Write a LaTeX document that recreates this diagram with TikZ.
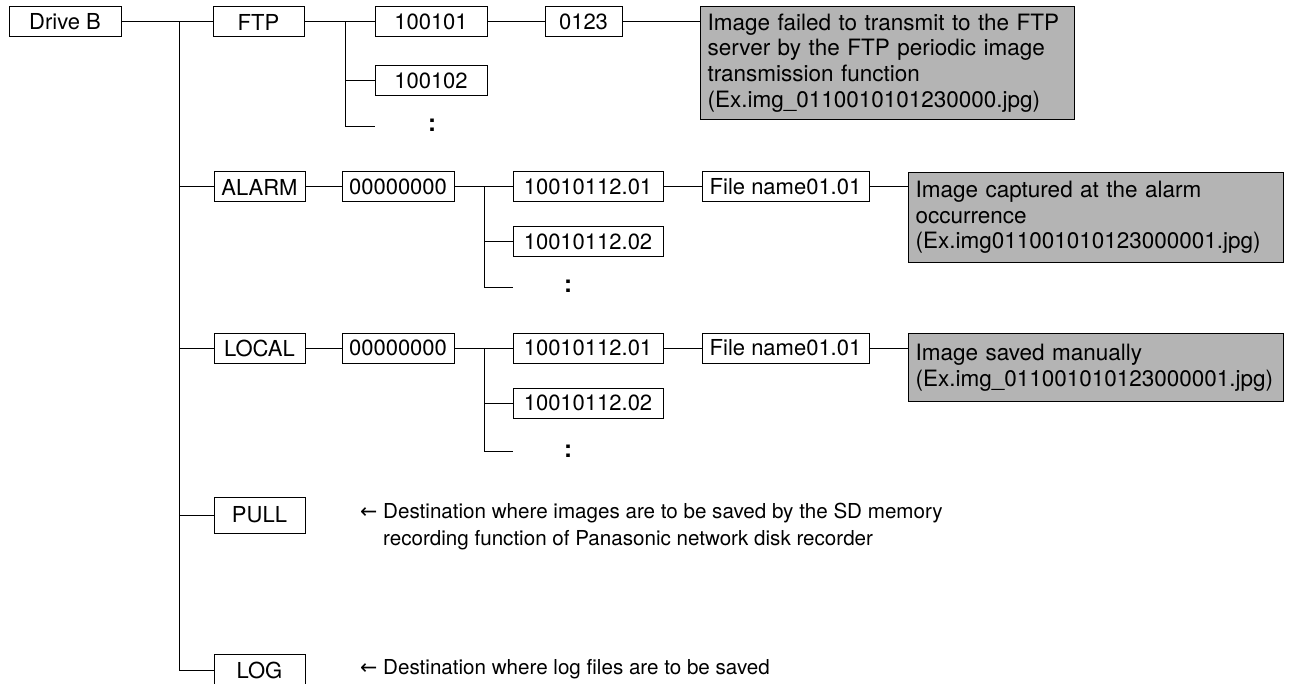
\documentclass[tikz,border=0pt]{standalone}
\usepackage{fontspec}
\setmainfont{TeX Gyre Heros}
\newfontfamily\arrowfont{DejaVu Sans}
\definecolor{greyfill}{RGB}{180,180,180}
\begin{document}
\begin{tikzpicture}[x=1pt,y=-1pt,
  lbl/.style={draw=black,line width=1pt,minimum height=30pt,inner sep=0pt,font=\fontsize{22}{26}\selectfont},
  note/.style={draw=black,line width=1pt,fill=greyfill,anchor=north west,inner xsep=7pt,inner ysep=0pt,align=left,font=\fontsize{22.5}{25.6}\selectfont},
  desc/.style={anchor=base west,inner sep=0pt,align=left,font=\fontsize{20.6}{27}\selectfont},
  dots/.style={inner sep=0pt,font=\fontsize{24}{26}\selectfont\bfseries},
  wire/.style={line width=1pt,draw=black}]
\useasboundingbox (0,0) rectangle (1289,684);

% FTP row
\node[lbl,minimum width=112pt] (drive) at (65,22) {Drive B};
\node[lbl,minimum width=91pt] (ftp) at (258.5,22) {FTP};
\node[lbl,minimum width=112pt] (f1) at (431,22) {100101};
\node[lbl,minimum width=112pt] (f2) at (431,81) {100102};
\node[lbl,minimum width=77pt] (f3) at (583.5,22) {0123};
\node[note,minimum width=374pt,minimum height=113pt,text width=360pt] (g1) at (700,6) {Image failed to transmit to the FTP\\server by the FTP periodic image\\transmission function\\(Ex.img\_0110010101230000.jpg)};
\node[dots] (fdots) at (432,125) {:};

% ALARM row
\node[lbl,minimum width=91pt] (alarm) at (259.5,187) {ALARM};
\node[lbl,minimum width=112pt] (a0) at (398,187) {00000000};
\node[lbl,minimum width=150pt] (a1) at (588,187) {10010112.01};
\node[lbl,minimum width=150pt] (a2) at (588,242) {10010112.02};
\node[lbl,minimum width=167pt] (a3) at (785.5,187) {File name01.01};
\node[note,minimum width=375pt,minimum height=90pt,text width=361pt] (g2) at (908,172) {Image captured at the alarm\\occurrence\\(Ex.img011001010123000001.jpg)};
\node[dots] (adots) at (568,286) {:};

% LOCAL row
\node[lbl,minimum width=91pt] (local) at (259.5,348) {LOCAL};
\node[lbl,minimum width=112pt] (l0) at (398,348) {00000000};
\node[lbl,minimum width=150pt] (l1) at (588,348) {10010112.01};
\node[lbl,minimum width=150pt] (l2) at (588,403) {10010112.02};
\node[lbl,minimum width=167pt] (l3) at (785.5,348) {File name01.01};
\node[note,minimum width=375pt,minimum height=68pt,text width=361pt] (g3) at (908,333) {Image saved manually\\(Ex.img\_011001010123000001.jpg)};
\node[dots] (ldots) at (568,451) {:};

% PULL and LOG
\node[lbl,minimum width=91pt,minimum height=36pt] (pull) at (259.5,515) {PULL};
\node[lbl,minimum width=91pt,minimum height=32pt] (log) at (259.5,670) {LOG};
\node[desc,anchor=north west] (pdesc) at (360,503) {{\arrowfont ←} Destination where images are to be saved by the SD memory\\\phantom{{\arrowfont ←} }recording function of Panasonic network disk recorder};
\node[desc] (ldesc) at (360,674) {{\arrowfont ←} Destination where log files are to be saved};

% main trunk
\coordinate (t0) at (179,22);
\draw[wire] (drive.east) -- (ftp.west);
\draw[wire] (t0) |- (log.west);
\draw[wire] (t0 |- alarm) -- (alarm.west);
\draw[wire] (t0 |- local) -- (local.west);
\draw[wire] (t0 |- pull) -- (pull.west);

% FTP branch
\coordinate (s1) at (345,22);
\coordinate (fe) at (375,127);
\draw[wire] (ftp.east) -- (f1.west);
\draw[wire] (s1) |- (fe);
\draw[wire] (s1 |- f2) -- (f2.west);
\draw[wire] (f1.east) -- (f3.west);
\draw[wire] (f3.east) -- (f3.east -| g1.west);

% ALARM branch
\coordinate (s2) at (484,187);
\coordinate (ae) at (513,288);
\draw[wire] (alarm.east) -- (a0.west);
\draw[wire] (a0.east) -- (a1.west);
\draw[wire] (s2) |- (ae);
\draw[wire] (s2 |- a2) -- (a2.west);
\draw[wire] (a1.east) -- (a3.west);
\draw[wire] (a3.east) -- (a3.east -| g2.west);

% LOCAL branch
\coordinate (s3) at (484,348);
\coordinate (le) at (513,451);
\draw[wire] (local.east) -- (l0.west);
\draw[wire] (l0.east) -- (l1.west);
\draw[wire] (s3) |- (le);
\draw[wire] (s3 |- l2) -- (l2.west);
\draw[wire] (l1.east) -- (l3.west);
\draw[wire] (l3.east) -- (l3.east -| g3.west);
\end{tikzpicture}
\end{document}
